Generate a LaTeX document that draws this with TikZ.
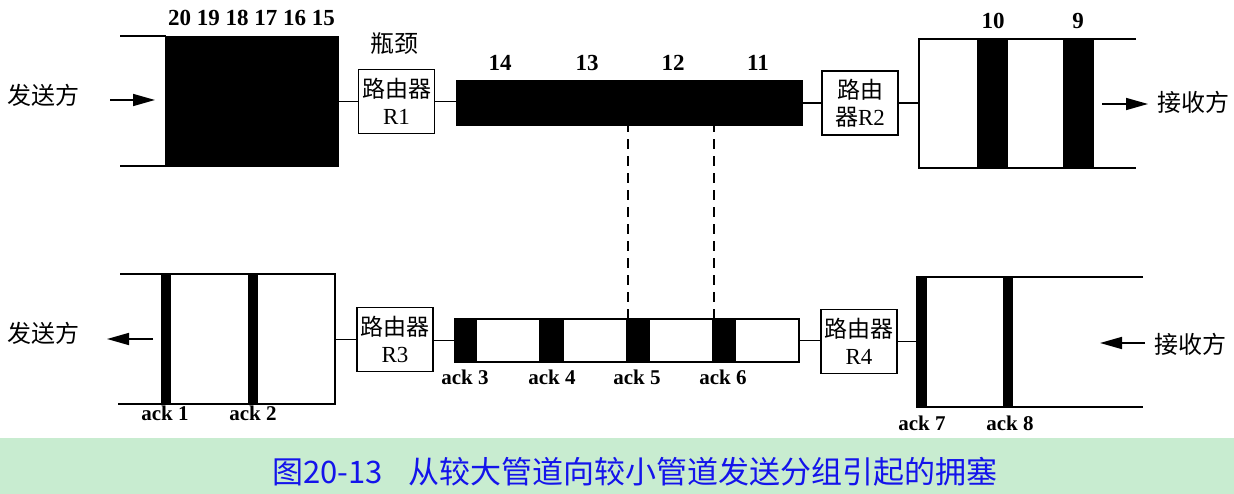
\documentclass[tikz,border=0pt]{standalone}
\usepackage{fontspec}
\setmainfont{Liberation Serif}
\newfontfamily\cjk{Noto Sans CJK SC}
\usetikzlibrary{arrows.meta}
\definecolor{capbg}{RGB}{200,236,208}
\definecolor{capfg}{RGB}{20,20,235}
\begin{document}
\begin{tikzpicture}[x=1pt,y=-1pt,
  lw/.style={line width=1.6pt},
  router/.style={draw, line width=1.5pt, minimum width=76pt, minimum height=64pt,
     inner sep=0pt, align=center, font=\fontsize{23}{27}\selectfont},
  blk/.style={fill=black, draw=black, line width=0.5pt, inner sep=0pt},
  num/.style={font=\bfseries\fontsize{23}{25}\selectfont, inner sep=0pt},
  ack/.style={font=\bfseries\fontsize{21}{23}\selectfont, inner sep=0pt},
  zh/.style={font=\cjk\fontsize{24}{26}\selectfont, inner sep=0pt},
  arr/.style={line width=1.6pt, -{Triangle[length=22pt,width=12pt]}},
  dsh/.style={line width=1.5pt, dash pattern=on 10pt off 7pt}
]
\useasboundingbox (0,0) rectangle (1234,494);
\fill[capbg] (0,438) rectangle (1234,494);

% ---------- top row ----------
\node[zh] (snd1) at (44,95) {发送方};
\coordinate (s1a) at (110,100);
\coordinate (s1b) at (155,100);
\draw[arr] (s1a) -- (s1b);
\draw[lw] (120,36) -- (166,36);
\draw[lw] (120,166) -- (166,166);
\node[blk, minimum width=173pt, minimum height=130pt] (big) at (251.5,101) {};
\node[num] (n20) at (251.5,18) {20 19 18 17 16 15};
\node[zh] (bott) at (394,43) {瓶颈};
\node[router] (R1) at (396.5,101.5) {{\cjk 路由器}\\R1};
\node[blk, minimum width=346pt, minimum height=45pt] (narrow) at (629,102.5) {};
\node[num] (n14) at (500,63) {14};
\node[num] (n13) at (587,63) {13};
\node[num] (n12) at (673,63) {12};
\node[num] (n11) at (758,63) {11};
\node[router] (R2) at (860,103) {{\cjk 路由}\\{\cjk 器}R2};
\draw[lw] (big.east |- R1) -- (R1.west);
\draw[lw] (R1.east) -- (R1.east -| narrow.west);
\draw[lw] (narrow.east |- R2) -- (R2.west);
\coordinate (rp) at (919,103);
\draw[lw] (R2.east) -- (rp);
\draw[lw] (1136,39) -- (919,39) -- (919,168) -- (1136,168);
\node[blk, minimum width=30pt, minimum height=129pt] (p10) at (992,103.5) {};
\node[blk, minimum width=30pt, minimum height=129pt] (p9) at (1078,103.5) {};
\node[num] (n10) at (993,21) {10};
\node[num] (n9) at (1078,21) {9};
\coordinate (r1a) at (1102,104);
\coordinate (r1b) at (1148,104);
\draw[arr] (r1a) -- (r1b);
\node[zh] (rcv1) at (1193,102) {接收方};

% ---------- bottom row ----------
\node[zh] (snd2) at (44,333) {发送方};
\coordinate (s2a) at (153,339);
\coordinate (s2b) at (107,339);
\draw[arr] (s2a) -- (s2b);
\draw[lw] (120,274) -- (335,274) -- (335,404) -- (118,404);
\node[blk, minimum width=9pt, minimum height=130pt] (a1) at (165.5,339) {};
\node[blk, minimum width=9pt, minimum height=130pt] (a2) at (252.5,339) {};
\node[ack] (l1) at (165,413) {ack 1};
\node[ack] (l2) at (253,413) {ack 2};
\coordinate (lp) at (335,339.5);
\node[router] (R3) at (395,339.5) {{\cjk 路由器}\\R3};
\draw[lw] (lp) -- (R3.west);
\draw[lw] (455,319) rectangle (799,362);
\coordinate (sp) at (455,340.5);
\coordinate (spe) at (799,340.5);
\draw[lw] (R3.east |- sp) -- (sp);
\node[blk, minimum width=21pt, minimum height=43pt] (a3) at (465.5,340.5) {};
\node[blk, minimum width=24pt, minimum height=43pt] (a4) at (551,340.5) {};
\node[blk, minimum width=23pt, minimum height=43pt] (a5) at (637.5,340.5) {};
\node[blk, minimum width=23pt, minimum height=43pt] (a6) at (723.5,340.5) {};
\node[ack] (l3) at (465,377) {ack 3};
\node[ack] (l4) at (552,377) {ack 4};
\node[ack] (l5) at (637,377) {ack 5};
\node[ack] (l6) at (723,377) {ack 6};
\node[router] (R4) at (859,341.5) {{\cjk 路由器}\\R4};
\draw[lw] (spe) -- (R4.west |- spe);
\draw[lw] (1143,277) -- (917,277) -- (917,407) -- (1143,407);
\node[blk, minimum width=9pt, minimum height=130pt] (a7) at (921.5,342) {};
\node[blk, minimum width=9pt, minimum height=130pt] (a8) at (1007.5,342) {};
\draw[lw] (R4.east) -- (R4.east -| a7.west);
\node[ack] (l7) at (922,423) {ack 7};
\node[ack] (l8) at (1010,423) {ack 8};
\coordinate (r2a) at (1145,343);
\coordinate (r2b) at (1100,343);
\draw[arr] (r2a) -- (r2b);
\node[zh] (rcv2) at (1190,344) {接收方};

% ---------- dashed links ----------
\draw[dsh] (a5.north west -| 628,0) -- (narrow.south -| 628,0);
\draw[dsh] (a6.north west -| 714,0) -- (narrow.south -| 714,0);

% ---------- caption ----------
\node[font=\cjk\fontsize{31}{33}\selectfont, text=capfg, inner sep=0pt] (cap) at (635,472)
  {图20-13\hspace{26pt}从较大管道向较小管道发送分组引起的拥塞};
\end{tikzpicture}
\end{document}
